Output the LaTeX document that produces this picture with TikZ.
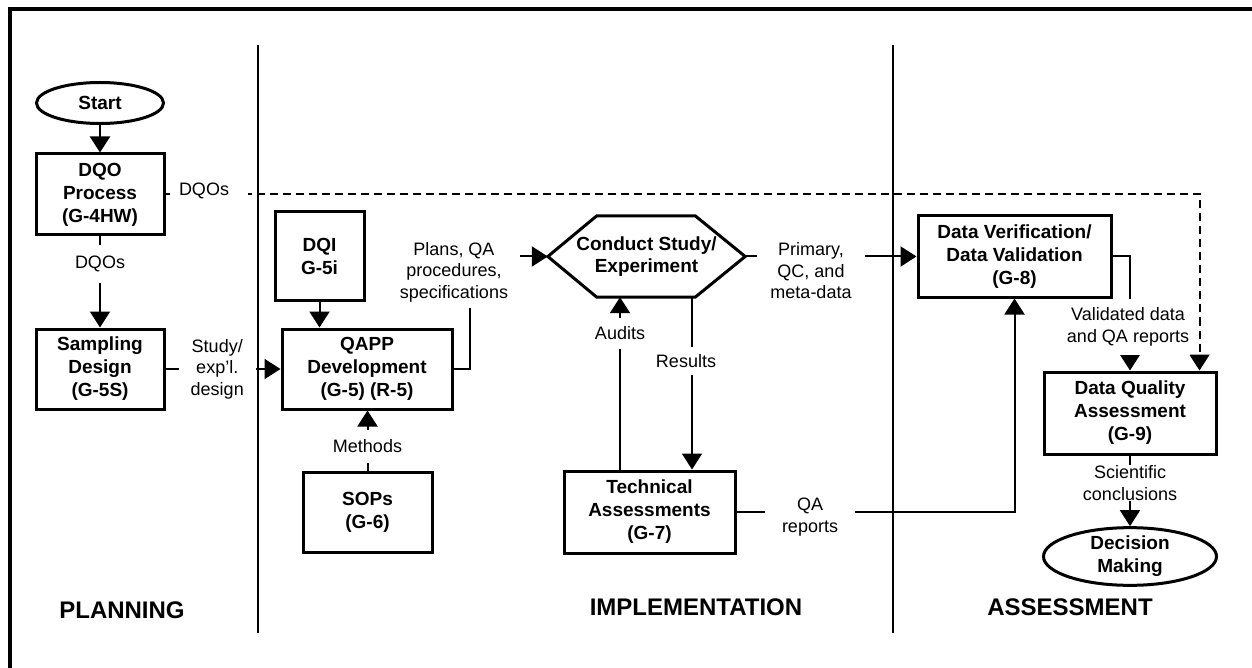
\documentclass[tikz,border=0pt]{standalone}
\usepackage{fontspec}
\setmainfont{Liberation Sans}
\usetikzlibrary{arrows.meta,calc,shapes.geometric}
\begin{document}
\begin{tikzpicture}[x=1pt,y=-1pt,
  box/.style={draw, line width=3pt, align=center, inner sep=0pt, font=\bfseries\fontsize{19}{23}\selectfont},
  oval/.style={box, ellipse},
  lbl/.style={align=center, font=\fontsize{18}{21.5}\selectfont, fill=white, inner sep=0pt},
  conn/.style={line width=2pt},
  arr/.style={conn, -{Triangle[length=16pt,width=20pt]}},
  dashconn/.style={arr, dash pattern=on 8pt off 5pt},
  divider/.style={line width=2pt},
  phase/.style={font=\bfseries\fontsize{24}{28}\selectfont},
]
\useasboundingbox (0,0) rectangle (1252,668);
% frame and dividers
\draw[line width=4pt] (9.5,668) -- (9.5,9) -- (1252,9);
\draw[divider] (258,45) -- (258,633);
\draw[divider] (893,45) -- (893,633);

% nodes
\node[oval, minimum width=127pt, minimum height=41pt] (start) at (100,103) {Start};
\node[box, minimum width=128pt, minimum height=81pt] (dqo) at (100,194.5) {DQO\\Process\\(G-4HW)};
\node[box, minimum width=128pt, minimum height=80pt] (samp) at (100,369) {Sampling\\Design\\(G-5S)};
\node[box, minimum width=89pt, minimum height=88pt] (dqi) at (319.5,256) {DQI\\G-5i};
\node[box, minimum width=170pt, minimum height=80pt] (qapp) at (367,369) {QAPP\\Development\\(G-5) (R-5)};
\node[box, minimum width=129pt, minimum height=80pt] (sops) at (367.5,512) {SOPs\\(G-6)};
\node[align=center, inner sep=0pt, minimum width=197pt, minimum height=81pt,
      font=\bfseries\fontsize{19}{22}\selectfont] (cs) at (646.5,256.5) {Conduct Study/\\Experiment};
\draw[line width=3pt, line join=miter] (cs.west) -- ($(cs.north west)+(49,0)$) -- ($(cs.north east)+(-50,0)$)
  -- (cs.east) -- ($(cs.south east)+(-50,0)$) -- ($(cs.south west)+(49,0)$) -- cycle;
\node[box, minimum width=171pt, minimum height=82pt] (tech) at (649.5,512) {Technical\\Assessments\\(G-7)};
\node[box, minimum width=193pt, minimum height=81pt] (dv) at (1014.5,256.5) {Data Verification/\\Data Validation\\(G-8)};
\node[box, minimum width=172pt, minimum height=82pt] (dqa) at (1130,413) {Data Quality\\Assessment\\(G-9)};
\node[oval, minimum width=173pt, minimum height=57pt] (dm) at (1130,556.5) {Decision\\Making};

% phase labels
\node[phase] (pl) at (122,610) {PLANNING};
\node[phase] (im) at (696,607) {IMPLEMENTATION};
\node[phase] (as) at (1070,607) {ASSESSMENT};

% connectors
\draw[dashconn] (dqo.east) -| ($(dqa.north east)+(-18,0)$);
\node[lbl, text width=78pt, align=left, minimum height=24pt] (dqolbl) at (209,191) {\hspace*{9pt}DQOs};

\draw[arr] (start.south) -- (dqo.north);
\draw[arr] (dqo.south) -- node[lbl, pos=0.3, inner ysep=11pt] {DQOs} (samp.north);
\draw[arr] (samp.east) -- node[lbl, pos=0.45, inner xsep=12pt] {Study/\\exp'l.\\design} (qapp.west);
\draw[arr] (dqi.south) -- (dqi.south |- qapp.north);
\draw[arr] (sops.north) -- node[lbl, pos=0.4, inner ysep=10pt] {Methods} (sops.north |- qapp.south);

\coordinate (pc) at (470,256.5);
\draw[arr] (qapp.east) -| (pc) -- (cs.west);
\node[lbl, inner xsep=12pt, inner ysep=6pt] (plans) at (454,272) {Plans, QA\\procedures,\\specifications};

\draw[arr] (cs.east) -- (dv.west);
\node[lbl, inner xsep=13pt, inner ysep=4pt] (prim) at (811,271) {Primary,\\QC, and\\meta-data};

\coordinate (rs) at ($(cs.south)+(45.5,0)$);
\draw[arr] (rs) -- node[lbl, pos=0.37, xshift=-6pt, inner ysep=7pt] {Results} (rs |- tech.north);
\coordinate (au) at ($(cs.south)+(-26.5,0)$);
\draw[arr] (au |- tech.north) -- node[lbl, pos=0.79, inner ysep=9pt] {Audits} (au);

\draw[arr] (tech.east) -| (dv.south);
\node[lbl, inner xsep=17pt, inner ysep=2pt] (qar) at (810,517) {QA\\reports};

\draw[arr] (dv.east) -| (dqa.north);
\node[lbl, inner xsep=1pt, inner ysep=9pt] (vd) at (1128,327) {Validated data\\and QA reports};

\draw[arr] (dqa.south) -- node[lbl, pos=0.39, inner sep=1pt] {Scientific\\conclusions} (dm.north);
\end{tikzpicture}
\end{document}
